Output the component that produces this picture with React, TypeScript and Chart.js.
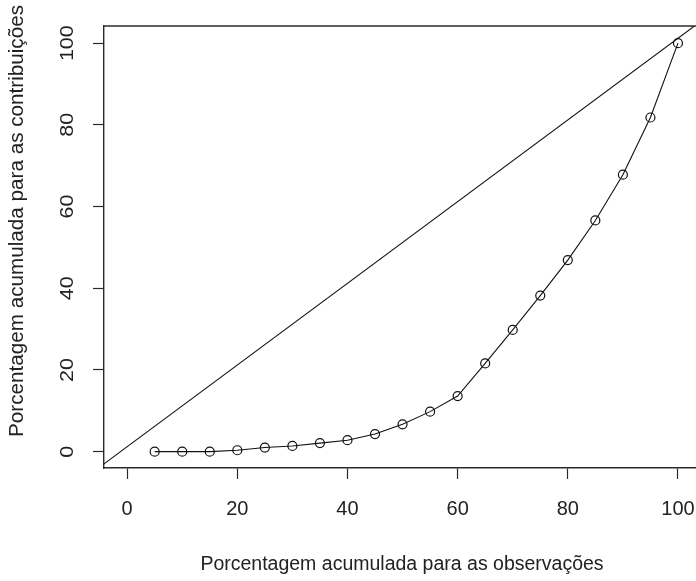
import React, { useEffect, useRef } from "react";
import { Chart, registerables } from "chart.js";

Chart.register(...registerables);

// Cumulative percentage of observations (x) and of contributions (y)
const obsPercent = [5, 10, 15, 20, 25, 30, 35, 40, 45, 50, 55, 60, 65, 70, 75, 80, 85, 90, 95, 100];
const contribPercent = [0, 0, 0, 0.35, 1.0, 1.4, 2.1, 2.8, 4.3, 6.7, 9.8, 13.6, 21.6, 29.8, 38.2, 46.9, 56.6, 67.8, 81.8, 100];

// Line of equality (drawn across the whole plot region)
const equalityX = [-5, 105];
const equalityY = [-3.8, 106.2];

const tickValues = [0, 20, 40, 60, 80, 100];
const xTitle = "Porcentagem acumulada para as observações";
const yTitle = "Porcentagem acumulada para as contribuições";

const FONT = '"Liberation Sans", Arial, sans-serif';
const TEXT = "#222";
const FRAME = "#2a2a2a";

export default function App() {
  const ref = useRef<HTMLCanvasElement | null>(null);

  useEffect(() => {
    if (!ref.current) return;

    const decor = {
      id: "decor",
      afterDraw(chart: any) {
        const { ctx, chartArea } = chart;
        const ys = chart.scales.y;
        ctx.save();
        // top frame line
        ctx.strokeStyle = FRAME;
        ctx.lineWidth = 1.4;
        ctx.beginPath();
        ctx.moveTo(chartArea.left, chartArea.top);
        ctx.lineTo(chartArea.right, chartArea.top);
        ctx.stroke();

        ctx.fillStyle = TEXT;
        ctx.textAlign = "center";
        ctx.textBaseline = "middle";
        // y tick labels, rotated (parallel to axis)
        ys.ticks.forEach((t: any) => {
          const py = ys.getPixelForValue(t.value);
          ctx.save();
          ctx.translate(68, py);
          ctx.rotate(-Math.PI / 2);
          ctx.scale(1.13, 1);
          ctx.font = `19px ${FONT}`;
          ctx.fillText(String(t.value), 0, 0);
          ctx.restore();
        });
        // y title
        ctx.save();
        ctx.translate(18, 221);
        ctx.rotate(-Math.PI / 2);
        ctx.scale(1.06, 1);
        ctx.font = `19.5px ${FONT}`;
        ctx.fillText(yTitle, 0, 0);
        ctx.restore();
        // x title
        ctx.font = `19.5px ${FONT}`;
        ctx.fillText(xTitle, 402, 565);
        ctx.restore();
      },
    };

    const chart = new Chart(ref.current, {
      type: "line",
      data: {
        datasets: [
          {
            data: equalityX.map((x, i) => ({ x, y: equalityY[i] })),
            borderColor: "#111",
            borderWidth: 1.1,
            pointRadius: 0,
            fill: false,
          },
          {
            data: obsPercent.map((x, i) => ({ x, y: contribPercent[i] })),
            borderColor: "#111",
            borderWidth: 1.1,
            pointRadius: 4.5,
            pointBorderWidth: 1.2,
            pointBorderColor: "#111",
            pointBackgroundColor: "rgba(0,0,0,0)",
            pointStyle: "circle",
            fill: false,
          },
        ],
      },
      options: {
        animation: false,
        responsive: false,
        devicePixelRatio: 1,
        layout: { padding: { top: 26, right: 40, left: 0, bottom: 0 } },
        plugins: { legend: { display: false }, tooltip: { enabled: false } },
        scales: {
          x: {
            type: "linear",
            min: -4.2,
            max: 104,
            afterFit: (s: any) => {
              s.height = 113;
              s.paddingLeft = 0;
              s.paddingRight = 0;
            },
            afterBuildTicks: (s: any) => {
              s.ticks = tickValues.map((v) => ({ value: v }));
            },
            grid: {
              drawOnChartArea: false,
              drawTicks: true,
              tickLength: 11,
              tickColor: FRAME,
              tickWidth: 1.2,
            },
            border: { display: true, color: FRAME, width: 1.4 },
            ticks: {
              color: TEXT,
              font: { family: FONT, size: 20 },
              padding: 18,
              maxRotation: 0,
              minRotation: 0,
            },
          },
          y: {
            type: "linear",
            min: -4,
            max: 104.2,
            afterFit: (s: any) => {
              s.width = 104;
              s.paddingTop = 0;
              s.paddingBottom = 0;
            },
            afterBuildTicks: (s: any) => {
              s.ticks = tickValues.map((v) => ({ value: v }));
            },
            grid: {
              drawOnChartArea: false,
              drawTicks: true,
              tickLength: 11,
              tickColor: FRAME,
              tickWidth: 1.2,
            },
            border: { display: true, color: FRAME, width: 1.4 },
            ticks: {
              color: "rgba(0,0,0,0)",
              font: { family: FONT, size: 19 },
              padding: 4,
            },
          },
        },
      },
      plugins: [decor],
    });

    return () => chart.destroy();
  }, []);

  return (
    <div
      style={{
        position: "fixed",
        left: 0,
        top: 0,
        width: 696,
        height: 581,
        overflow: "hidden",
        background: "#fff",
      }}
    >
      <canvas ref={ref} width={740} height={581} style={{ display: "block" }} />
    </div>
  );
}
